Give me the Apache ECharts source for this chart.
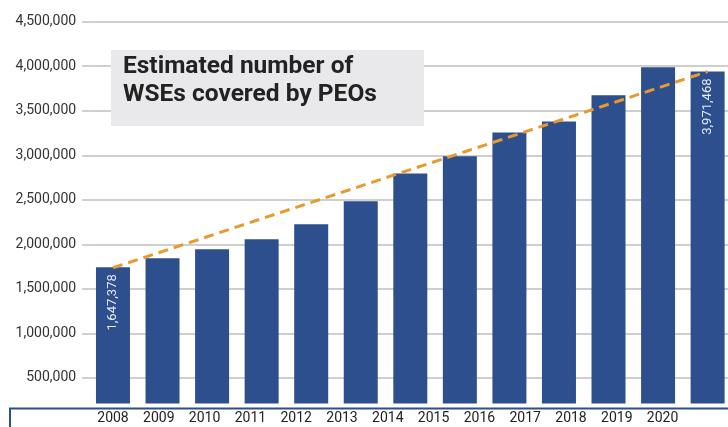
<!DOCTYPE html>
<html>
<head>
<meta charset="utf-8">
<script src="https://cdn.jsdelivr.net/npm/echarts@6/dist/echarts.min.js"></script>
<style>
html,body{margin:0;padding:0;background:#fff;}
#chart{width:728px;height:427px;}
</style>
</head>
<body>
<div id="chart"></div>
<script>
// ---- data ----
const categories = ['2008','2009','2010','2011','2012','2013','2014','2015','2016','2017','2018','2019','2020'];
const wseValues = [1743000, 1844000, 1945000, 2057000, 2225000, 2483000, 2797000, 2988000, 3257000, 3380000, 3675000, 3989000, 3941000];
const valueLabels = ['1,647,378','','','','','','','','','','','','3,971,468'];
const trendValues = [1737000, null, null, null, null, null, null, null, null, null, null, null, 3940000];
const yMin = 0, yMax = 4500000, yStep = 500000;
const titleLines = ['Estimated number of', 'WSEs covered by PEOs'];

const BLUE = '#2D4F8E';
const GRID = '#cfcfcf';
const FONT = 'Roboto';

const chart = echarts.init(document.getElementById('chart'), null, {renderer: 'canvas'});
chart.setOption({
  backgroundColor: '#ffffff',
  animation: false,
  textStyle: {fontFamily: FONT},
  grid: [
    {left: 88.2, right: -4.4, top: 21.7, bottom: 4.5, outerBoundsMode: 'none', containLabel: false},
    {left: 90.1, width: 595.4, top: 21.7, bottom: 23, outerBoundsMode: 'none', containLabel: false}
  ],
  xAxis: [
    {type: 'category', gridIndex: 0, data: categories,
     axisLine: {show: false}, axisTick: {show: false}, axisLabel: {show: false}, splitLine: {show: false}},
    {type: 'category', gridIndex: 1, data: categories, z: 100,
     axisLine: {show: false}, axisTick: {show: false}, splitLine: {show: false},
     axisLabel: {show: true, interval: 0, margin: 7, fontSize: 14, color: '#222', fontFamily: FONT}}
  ],
  yAxis: [
    {type: 'value', gridIndex: 0, min: yMin, max: yMax, interval: yStep,
     axisLine: {show: false},
     axisTick: {show: true, length: 6, lineStyle: {color: GRID, width: 2}},
     splitLine: {show: true, lineStyle: {color: GRID, width: 2}},
     axisLabel: {margin: 12, fontSize: 14, color: '#333', fontFamily: FONT, padding: [0,0,6,0],
       formatter: v => v === 0 ? '' : v.toLocaleString('en-US')}},
    {type: 'value', gridIndex: 1, show: false, min: 0, max: 1}
  ],
  graphic: [
    {type: 'rect', z: 10, shape: {x: 111, y: 50, width: 313, height: 76}, style: {fill: '#E9E9EB'}},
    {type: 'text', z: 11, x: 123, y: 53,
     style: {text: titleLines.join('\n'), font: 'bold 24.5px Roboto', fill: '#222', lineHeight: 28, textVerticalAlign: 'top'}},
    {type: 'rect', z: 50, shape: {x: 0, y: 403.5, width: 740, height: 30}, style: {fill: '#ffffff'}},
    {type: 'polyline', z: 51, shape: {points: [[10, 440], [10, 408.5], [740, 408.5]]},
     style: {stroke: BLUE, lineWidth: 2, fill: null}}
  ],
  series: [
    {type: 'bar', xAxisIndex: 0, yAxisIndex: 0, data: wseValues, barWidth: 34,
     itemStyle: {color: BLUE},
     label: {show: true, position: 'insideTop', distance: 7, rotate: 90, align: 'right', verticalAlign: 'middle',
       fontSize: 13, color: '#E6EAF2', fontFamily: FONT,
       formatter: p => valueLabels[p.dataIndex]}},
    {type: 'line', xAxisIndex: 0, yAxisIndex: 0, data: trendValues, connectNulls: true,
     symbol: 'none', z: 5,
     lineStyle: {color: '#E79B2F', width: 3, type: [10, 6]}}
  ]
});
</script>
</body>
</html>
